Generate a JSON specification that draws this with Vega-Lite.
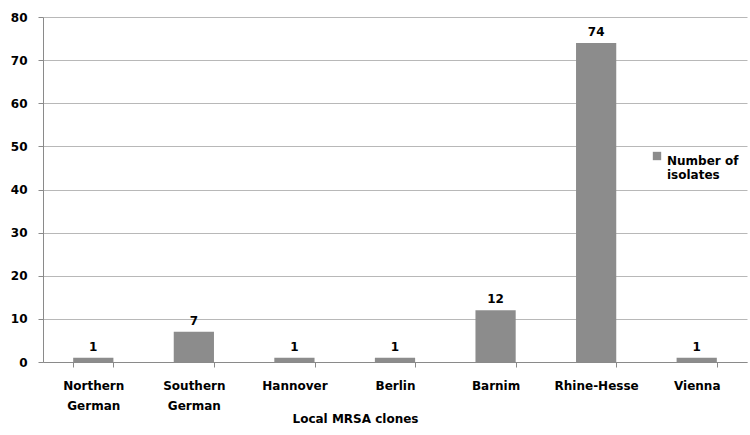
{
  "$schema": "https://vega.github.io/schema/vega-lite/v6.json",
  "autosize": {"type": "none"},
  "padding": {"left": 43, "top": 17, "right": 3, "bottom": 73},
  "width": 704,
  "height": 345,
  "background": "white",
  "config": {
    "font": "DejaVu Sans",
    "view": {"stroke": null}
  },
  "data": {
    "values": [
      {"clone": "Northern German", "isolates": 1, "series": "Number of isolates"},
      {"clone": "Southern German", "isolates": 7, "series": "Number of isolates"},
      {"clone": "Hannover", "isolates": 1, "series": "Number of isolates"},
      {"clone": "Berlin", "isolates": 1, "series": "Number of isolates"},
      {"clone": "Barnim", "isolates": 12, "series": "Number of isolates"},
      {"clone": "Rhine-Hesse", "isolates": 74, "series": "Number of isolates"},
      {"clone": "Vienna", "isolates": 1, "series": "Number of isolates"}
    ]
  },
  "encoding": {
    "x": {
      "field": "clone",
      "type": "nominal",
      "sort": null,
      "scale": {"paddingInner": 0.6, "paddingOuter": 0.3},
      "axis": {
        "title": "Local MRSA clones",
        "titleFont": "DejaVu Sans",
        "titleFontSize": 12,
        "titleFontWeight": "bold",
        "titleColor": "black",
        "titleX": 312,
        "titleY": 56,
        "titleAlign": "center",
        "titleBaseline": "middle",
        "labelAngle": 0,
        "labelFont": "DejaVu Sans",
        "labelFontSize": 12,
        "labelFontWeight": "bold",
        "labelColor": "black",
        "labelPadding": 13,
        "labelLineHeight": 20,
        "labelBaseline": "top",
        "labelExpr": "split(datum.label, ' ')",
        "tickBand": "extent",
        "tickColor": "#8a8a8a",
        "tickSize": 5,
        "domainColor": "#8a8a8a",
        "grid": false
      }
    },
    "y": {
      "field": "isolates",
      "type": "quantitative",
      "scale": {"domain": [0, 80], "nice": false},
      "axis": {
        "title": null,
        "values": [0, 10, 20, 30, 40, 50, 60, 70, 80],
        "labelFont": "DejaVu Sans",
        "labelFontSize": 12,
        "labelFontWeight": "bold",
        "labelColor": "black",
        "labelPadding": 11,
        "tickColor": "#8a8a8a",
        "tickSize": 5,
        "domainColor": "#8a8a8a",
        "gridColor": "#b8b8b8",
        "grid": true
      }
    }
  },
  "layer": [
    {
      "mark": {"type": "bar"},
      "encoding": {
        "color": {
          "field": "series",
          "type": "nominal",
          "scale": {"range": ["#8c8c8c"]},
          "legend": {
            "title": null,
            "orient": "none",
            "legendX": 608,
            "legendY": 133,
            "symbolType": "square",
            "symbolSize": 70,
            "symbolStrokeWidth": 0,
            "labelFont": "DejaVu Sans",
            "labelFontSize": 12,
            "labelFontWeight": "bold",
            "labelColor": "black",
            "labelLimit": 0,
            "labelOffset": 4,
            "labelBaseline": "top",
            "labelExpr": "['Number of', 'isolates']"
          }
        }
      }
    },
    {
      "mark": {"type": "text", "dy": -11, "font": "DejaVu Sans", "fontSize": 12, "fontWeight": "bold", "color": "black"},
      "encoding": {"text": {"field": "isolates", "type": "quantitative"}}
    }
  ]
}
